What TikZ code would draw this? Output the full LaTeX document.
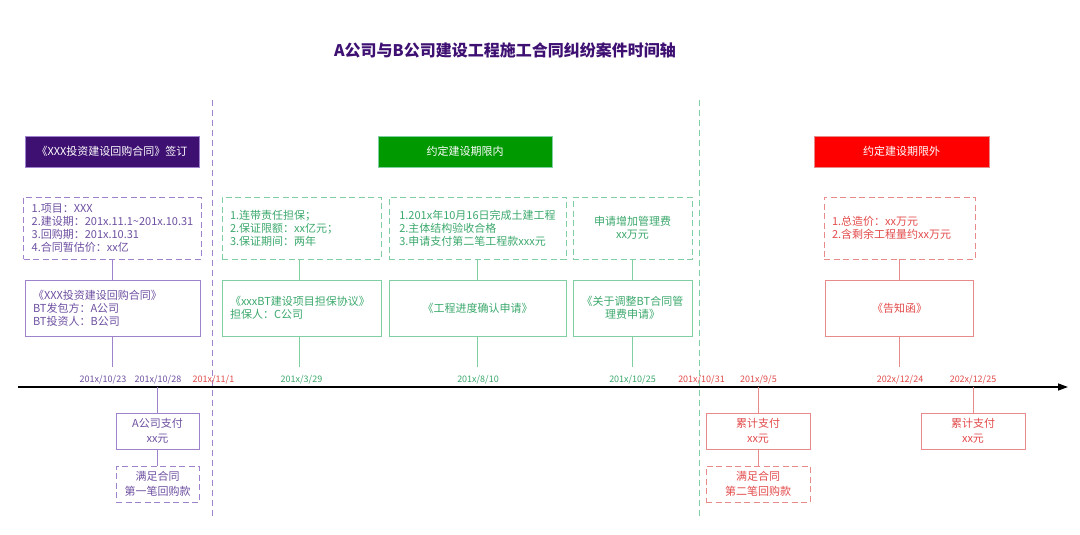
\documentclass[tikz,border=0pt]{standalone}
\usepackage{fontspec}
\setmainfont{Noto Sans CJK SC}
\usetikzlibrary{arrows.meta}
\usetikzlibrary{positioning}
\definecolor{pdeep}{HTML}{3E1072}
\definecolor{pline}{HTML}{9E82CC}
\definecolor{ptext}{HTML}{6D4FA0}
\definecolor{gdeep}{HTML}{009900}
\definecolor{gline}{HTML}{7FCFA3}
\definecolor{gtext}{HTML}{3BA86C}
\definecolor{rdeep}{HTML}{FF0000}
\definecolor{rline}{HTML}{E98A8A}
\definecolor{rtext}{HTML}{E24A4A}
\newcommand{\dnode}[4]{\node(#1)[date=#2] at (#3,380) {#4}}
\newcommand{\tnode}[4]{\coordinate(#1) at (#2,#3); \coordinate(#1end) at (#2,#4)}

\begin{document}
\begin{tikzpicture}[x=1pt,y=-1pt,
        every node/.style={font=\fontsize{11}{13}\selectfont},
        head/.style={rectangle,fill=#1deep,draw=#1line,text=white,line width=0.8pt,
                     minimum width=174pt,minimum height=31pt,font=\fontsize{11}{12}\selectfont},
        item/.style={rectangle,draw=#1line,text=#1text,line width=0.8pt,align=left,
                     inner xsep=8pt,inner ysep=2pt,minimum height=56pt},
        ditem/.style={item=#1,dash pattern=on 6pt off 3.5pt,minimum height=62pt},
        sitem/.style={item=#1,align=center,inner xsep=2pt,minimum height=36pt,
                      font=\fontsize{11}{15}\selectfont},
        date/.style={text=#1text,font=\fontsize{9}{10}\selectfont,inner sep=1pt},
        link/.style={draw=#1line,line width=0.8pt},
        sep/.style={draw=#1line,line width=1pt,dash pattern=on 6pt off 4pt}
      ]
      \useasboundingbox (0,0) rectangle (1080,535);
      \node(title)[text=pdeep,font=\bfseries\fontsize{16}{18}\selectfont] at (505,50)
           {A公司与B公司建设工程施工合同纠纷案件时间轴};

      % stage separators and time axis
      \tnode{s1}{212}{100}{516}; \tnode{s2}{699}{100}{516};
      \draw[sep=p] (s1) -- (s1end);
      \draw[sep=g] (s2) -- (s2end);
      \coordinate(axstart) at (18,387);
      \coordinate(axend) at (1068,387);
      \draw[line width=1.3pt,-{Triangle[length=10pt,width=7pt]}] (axstart) -- (axend);

      % stage headers
      \node(hp)[head=p] at (112,151.5) {《XXX投资建设回购合同》签订};
      \node(hg)[head=g] at (465,151.5) {约定建设期限内};
      \node(hr)[head=r,minimum width=175pt] at (901.5,151.5) {约定建设期限外};

      % upper boxes
      \node(p0)[ditem=p,minimum width=175pt] at (112.5,228)
           {1.项目：XXX\\2.建设期：201x.11.1\textasciitilde201x.10.31\\3.回购期：201x.10.31\\4.合同暂估价：xx亿};
      \node(p1)[item=p,minimum width=175pt,text width=159pt] at (112.5,308)
           {《XXX投资建设回购合同》\\BT发包方：A公司\\BT投资人：B公司};
      \node(g0)[ditem=g,minimum width=159pt,text width=143pt] at (301.5,228)
           {1.连带责任担保；\\2.保证限额：xx亿元；\\3.保证期间：两年};
      \node(g1)[item=g,minimum width=159pt,text width=143pt] at (301.5,308)
           {《xxxBT建设项目担保协议》\\担保人：C公司};
      \node(g2)[ditem=g,minimum width=177pt] at (477.5,228)
           {1.201x年10月16日完成土建工程\\2.主体结构验收合格\\3.申请支付第二笔工程款xxx元};
      \node(g3)[item=g,minimum width=177pt] at (477.5,308) {《工程进度确认申请》};
      \node(g4)[ditem=g,align=center,minimum width=119pt] at (632.5,228) {申请增加管理费\\xx万元};
      \node(g5)[item=g,align=center,minimum width=119pt] at (632.5,308) {《关于调整BT合同管\\理费申请》};
      \node(r0)[ditem=r,minimum width=151pt,text width=135pt] at (899.5,228)
           {1.总造价：xx万元\\2.含剩余工程量约xx万元};
      \node(r1)[item=r,align=center,minimum width=148pt] at (899.5,308) {《告知函》};

      % dates
      \dnode{d1}{p}{103}{201x/10/23}; \dnode{d2}{p}{158}{201x/10/28};
      \dnode{d3}{r}{213.5}{201x/11/1}; \dnode{d4}{g}{301.5}{201x/3/29};
      \dnode{d5}{g}{478}{201x/8/10}; \dnode{d6}{g}{632.5}{201x/10/25};
      \dnode{d7}{r}{701.5}{201x/10/31}; \dnode{d8}{r}{758.5}{201x/9/5};
      \dnode{d9}{r}{900}{202x/12/24}; \dnode{d10}{r}{973}{202x/12/25};

      % lower boxes
      \node(p2)[sitem=p,minimum width=83pt] at (157.5,431) {A公司支付\\xx元};
      \node(p3)[sitem=p,dash pattern=on 6pt off 3.5pt,minimum width=83pt] at (157.5,484) {满足合同\\第一笔回购款};
      \node(r2)[sitem=r,minimum width=104pt] at (758,431) {累计支付\\xx元};
      \node(r3)[sitem=r,dash pattern=on 6pt off 3.5pt,minimum width=104pt] at (758,484) {满足合同\\第二笔回购款};
      \node(r4)[sitem=r,minimum width=104pt] at (973,431) {累计支付\\xx元};

      % links
      \tnode{t1}{112.5}{367}{387}; \tnode{t2}{299}{367}{387}; \tnode{t3}{477.5}{367}{387};
      \tnode{t4}{632.5}{367}{387}; \tnode{t5}{899.5}{367}{387};
      \tnode{t6}{157.5}{387}{387}; \tnode{t7}{758}{387}{387}; \tnode{t8}{973}{387}{387};
      \draw[link=p] (p0.south) -- (p1.north);
      \draw[link=p] (p1.south) -- (t1);
      \draw[link=g] (g0.south -| t2) -- (g1.north -| t2);
      \draw[link=g] (g1.south -| t2) -- (t2);
      \draw[link=g] (g2.south) -- (g3.north);
      \draw[link=g] (g3.south) -- (t3);
      \draw[link=g] (g4.south) -- (g5.north);
      \draw[link=g] (g5.south) -- (t4);
      \draw[link=r] (r0.south) -- (r1.north);
      \draw[link=r] (r1.south) -- (t5);
      \draw[link=p] (t6) -- (p2.north);
      \draw[link=p] (p2.south) -- (p3.north);
      \draw[link=r] (t7) -- (r2.north);
      \draw[link=r] (r2.south) -- (r3.north);
      \draw[link=r] (t8) -- (r4.north);

    \end{tikzpicture}
\end{document}
